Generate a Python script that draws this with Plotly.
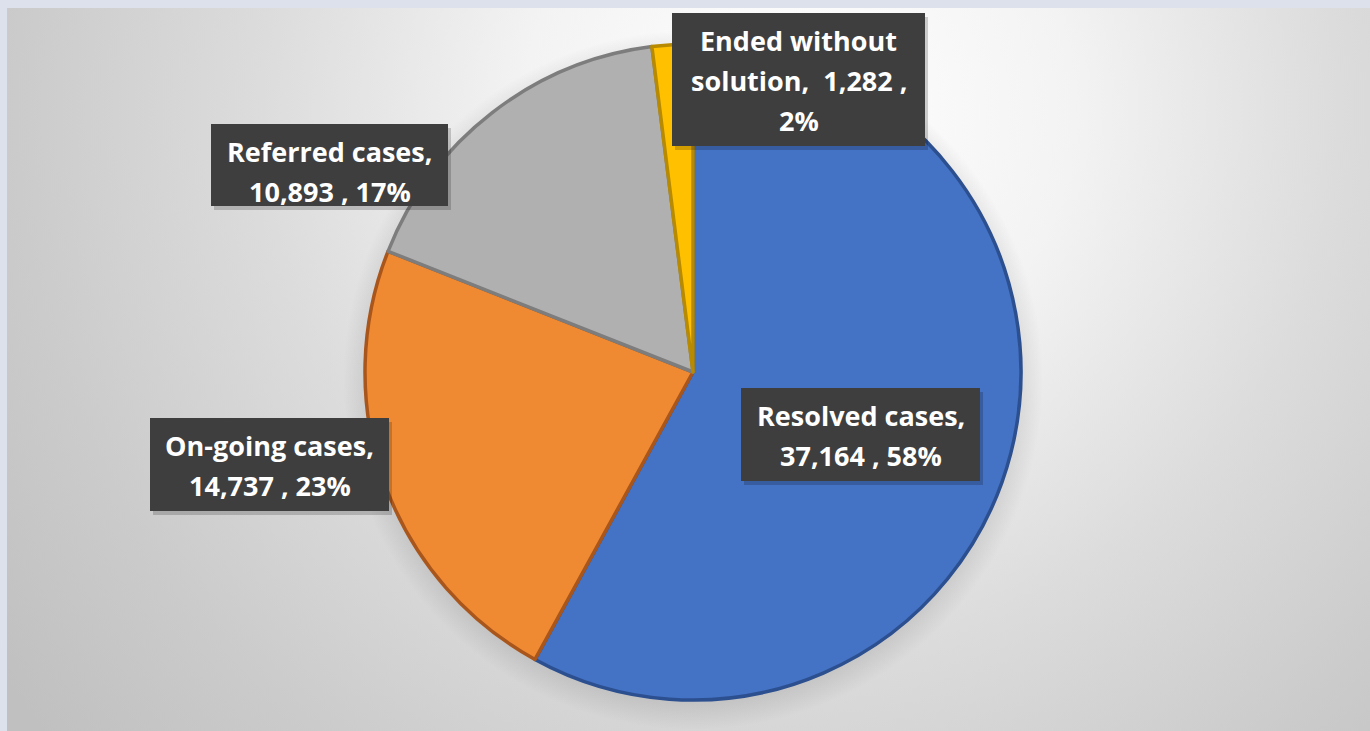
import base64
import plotly.graph_objects as go

# Case outcomes
categories = ["Resolved cases", "On-going cases", "Referred cases", "Ended without solution"]
case_counts = [37164, 14737, 10893, 1282]

slice_colors = ["#4472c4", "#f08a32", "#b0b0b0", "#ffc000"]
edge_colors = ["#2c4f8f", "#a9561c", "#7d7d7d", "#b88a00"]

W, H = 1370, 731
total = sum(case_counts)
percents = [round(100 * v / total) for v in case_counts]


def label_lines(name, value, pct):
    if name == "Ended without solution":
        first, rest = "Ended without", "solution"
        return [first, f"{rest},  {value:,} ,", f"{pct}%"]
    return [f"{name},", f"{value:,} , {pct}%"]


# label boxes (left, top, right, bottom) in pixels
label_boxes = [
    (741, 388, 980, 481),
    (150, 418, 389, 511),
    (211, 124, 448, 206),
    (672, 13, 925, 146),
]

# backdrop: light frame with a soft radial grey gradient
svg = f"""<svg xmlns='http://www.w3.org/2000/svg' width='{W}' height='{H}' viewBox='0 0 {W} {H}'>
<defs>
<radialGradient id='g' gradientUnits='userSpaceOnUse' cx='800' cy='110' r='980'>
<stop offset='0' stop-color='#ffffff'/>
<stop offset='0.28' stop-color='#f3f3f3'/>
<stop offset='0.55' stop-color='#dcdcdc'/>
<stop offset='0.8' stop-color='#cbcbcb'/>
<stop offset='1' stop-color='#c0c0c0'/>
</radialGradient>
<radialGradient id='s' gradientUnits='userSpaceOnUse' cx='693' cy='380' r='350'>
<stop offset='0.9' stop-color='#000000' stop-opacity='0.12'/>
<stop offset='1' stop-color='#000000' stop-opacity='0'/>
</radialGradient>
</defs>
<rect x='0' y='0' width='{W}' height='{H}' fill='#dde1eb'/>
<rect x='7' y='8' width='{W - 7}' height='{H - 8}' fill='url(#g)'/>
<circle cx='693' cy='380' r='350' fill='url(#s)'/>
</svg>"""
bg_src = "data:image/svg+xml;base64," + base64.b64encode(svg.encode()).decode()

cx, cy, r = 693, 372, 328

fig = go.Figure()
fig.add_trace(go.Pie(
    labels=categories,
    values=case_counts,
    sort=False,
    direction="clockwise",
    rotation=0,
    textinfo="none",
    hoverinfo="label+value+percent",
    marker=dict(colors=slice_colors, line=dict(color=edge_colors, width=3.5)),
    domain=dict(x=[(cx - r) / W, (cx + r) / W], y=[1 - (cy + r) / H, 1 - (cy - r) / H]),
    showlegend=False,
))

shapes = []
annotations = []
for name, value, pct, (x0, y0, x1, y1) in zip(categories, case_counts, percents, label_boxes):
    # soft shadow + dark box
    shapes.append(dict(type="rect", xref="x", yref="y", x0=x0 + 3, y0=y0 + 4, x1=x1 + 3, y1=y1 + 4,
                       fillcolor="rgba(0,0,0,0.18)", line=dict(width=0), layer="above"))
    shapes.append(dict(type="rect", xref="x", yref="y", x0=x0, y0=y0, x1=x1, y1=y1,
                       fillcolor="#3e3e3e", line=dict(width=0), layer="above"))
    for i, line in enumerate(label_lines(name, value, pct)):
        annotations.append(dict(
            x=(x0 + x1) / 2, y=y0 + 27 + 40 * i, xref="x", yref="y",
            text=line, showarrow=False, xanchor="center", yanchor="middle",
            font=dict(family="Open Sans", size=27, color="#ffffff", weight="bold"),
        ))

fig.update_layout(
    width=W, height=H,
    margin=dict(l=0, r=0, t=0, b=0),
    paper_bgcolor="#dde1eb",
    plot_bgcolor="rgba(0,0,0,0)",
    xaxis=dict(range=[0, W], visible=False, fixedrange=True),
    yaxis=dict(range=[H, 0], visible=False, fixedrange=True),
    images=[dict(source=bg_src, xref="paper", yref="paper", x=0, y=1, sizex=1, sizey=1,
                 xanchor="left", yanchor="top", sizing="stretch", layer="below")],
    shapes=shapes,
    annotations=annotations,
)

fig.write_html("out.html")
